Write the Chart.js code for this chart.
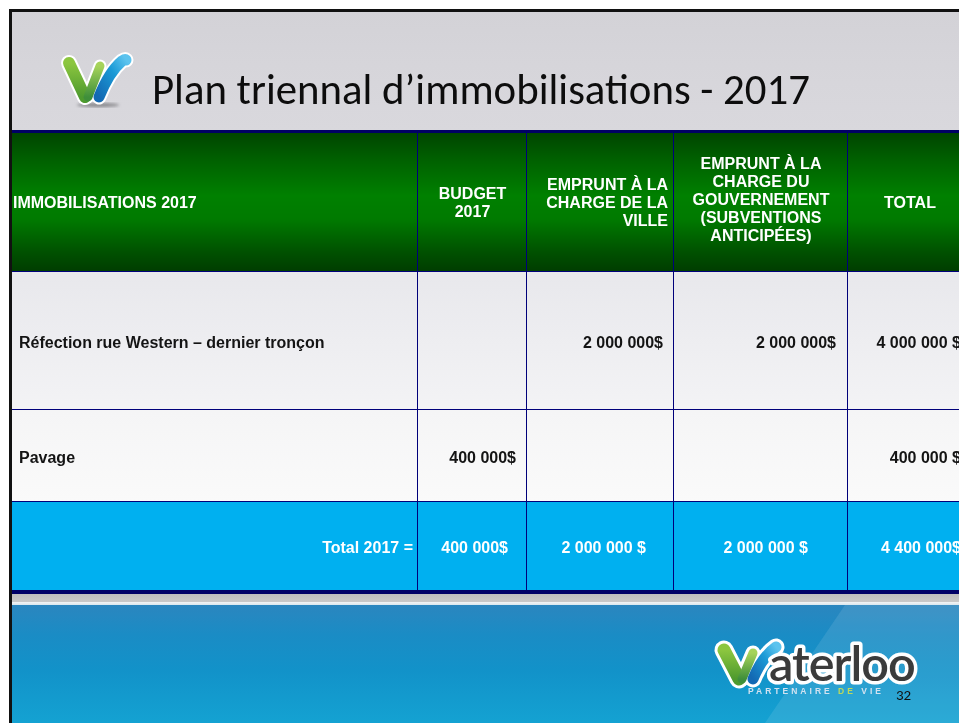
<!DOCTYPE html>
<html lang="fr"><head><meta charset="utf-8">
<title>Plan triennal d’immobilisations - 2017</title>
<script src="https://cdn.jsdelivr.net/npm/chart.js@4.4.0/dist/chart.umd.min.js"></script>
<style>
html,body{margin:0;padding:0;width:959px;height:723px;overflow:hidden;background:#fff;}
#slide{position:absolute;left:0;top:0;width:959px;height:723px;overflow:hidden;}
.abs{position:absolute;}
#borderTop{left:9px;top:9px;width:960px;height:3px;background:#111;}
#borderLeft{left:9px;top:9px;width:3px;height:720px;background:#111;z-index:5;}
#head{left:12px;top:12px;width:950px;height:118px;background:linear-gradient(180deg,#d3d2d7 0%,#d7d6db 60%,#d9d8dd 100%);}
#navyTop{left:12px;top:130px;width:960px;height:3px;background:#000066;}
#chartWrap{left:12px;top:133px;width:960px;height:457px;}
#navyBottom{left:12px;top:590px;width:960px;height:4px;background:#000066;}
#grayBand{left:12px;top:594px;width:960px;height:8px;background:linear-gradient(180deg,#bdbdbd,#c9c9c9);}
#whiteLine{left:12px;top:602px;width:960px;height:3px;background:linear-gradient(180deg,#f4f4f4,#d8e6ee);}
#footer{left:12px;top:605px;width:960px;height:118px;background:linear-gradient(180deg,#2b86bf 0%,#1a8cc5 25%,#1292c9 55%,#14a2d2 100%);}
#footerLight{left:0;top:605px;width:959px;height:118px;background:rgba(255,255,255,0.10);clip-path:polygon(845px 0,959px 0,959px 118px,765px 118px);}
#deco{left:0;top:0;width:959px;height:723px;z-index:4;}
</style>
</head>
<body>
<div id="slide">
  <div id="head" class="abs"></div>
  <div id="borderTop" class="abs"></div>
  <div id="navyTop" class="abs"></div>
  <div id="chartWrap" class="abs"><canvas id="chart"></canvas></div>
  <div id="navyBottom" class="abs"></div>
  <div id="grayBand" class="abs"></div>
  <div id="whiteLine" class="abs"></div>
  <div id="footer" class="abs"></div>
  <div id="footerLight" class="abs"></div>
  <div id="borderLeft" class="abs"></div>
  <svg id="deco" class="abs" width="959" height="723" xmlns="http://www.w3.org/2000/svg">
    <defs>
      <linearGradient id="gGreen" x1="0" y1="0" x2="0" y2="1">
        <stop offset="0" stop-color="#8cc63f"/><stop offset="1" stop-color="#4e9a2e"/>
      </linearGradient>
      <linearGradient id="gGreen2" x1="0" y1="0" x2="0" y2="1">
        <stop offset="0" stop-color="#a6d35a"/><stop offset="1" stop-color="#3f8f3a"/>
      </linearGradient>
      <linearGradient id="gBlue" x1="0" y1="1" x2="1" y2="0">
        <stop offset="0" stop-color="#1369b3"/><stop offset="0.6" stop-color="#1b9ad6"/><stop offset="1" stop-color="#5cc3ee"/>
      </linearGradient>
      <filter id="blur"><feGaussianBlur stdDeviation="1.6"/></filter>
    </defs>
    <!-- top-left logo -->
    <ellipse cx="98" cy="105" rx="21" ry="2.2" fill="#8c8c90" filter="url(#blur)"/>
    <g stroke-linecap="round" fill="none">
      <path d="M69 63 L85 97" stroke="#fff" stroke-width="16"/>
      <path d="M88 97 L100 66" stroke="#fff" stroke-width="13"/>
      <path d="M99 97 Q109 72 122 61 Q125 59 126 60" stroke="#fff" stroke-width="15"/>
      <path d="M69 63 L85 97" stroke="url(#gGreen)" stroke-width="12"/>
      <path d="M88 97 L100 66" stroke="url(#gGreen2)" stroke-width="9"/>
      <path d="M99 97 Q109 72 122 61 Q125 59 126 60" stroke="url(#gBlue)" stroke-width="11"/>
    </g>
    <text id="title" x="152" y="104" font-family="Carlito, Lato, 'Open Sans', sans-serif" font-size="40" fill="#0d0d0d">Plan triennal d’immobilisations - 2017</text>
    <!-- footer logo -->
    <g stroke-linecap="round" fill="none">
      <path d="M724 650 L739 679" stroke="#fff" stroke-width="19"/>
      <path d="M742 679 L753 653" stroke="#fff" stroke-width="15"/>
      <path d="M753 679 Q762 657 776 647" stroke="#fff" stroke-width="17"/>
      <path d="M724 650 L739 679" stroke="url(#gGreen)" stroke-width="13"/>
      <path d="M742 679 L753 653" stroke="url(#gGreen2)" stroke-width="9"/>
      <path d="M753 679 Q762 657 776 647" stroke="url(#gBlue)" stroke-width="11"/>
    </g>
    <text id="brand" x="769" y="681" font-family="Lato, 'Open Sans', sans-serif" font-weight="600" font-size="50" fill="#3b3b3b" stroke="#ffffff" stroke-width="7" paint-order="stroke" stroke-linejoin="round" letter-spacing="-1">aterloo</text>
    <text x="748" y="694" font-family="'Liberation Sans', Arial, sans-serif" font-weight="700" font-size="8.5" fill="#d2e2f0" textLength="133" lengthAdjust="spacing">PARTENAIRE <tspan fill="#bcd85c">DE</tspan> VIE</text>
    <text x="896" y="700" font-family="Carlito, Lato, sans-serif" font-size="15" fill="#111">32</text>
  </svg>
</div>
<script>
// ---------- data ----------
const firstColumnHeader = 'IMMOBILISATIONS 2017';
const columnHeaders = [
  ['BUDGET', '2017'],
  ['EMPRUNT À LA', 'CHARGE DE LA', 'VILLE'],
  ['EMPRUNT À LA', 'CHARGE DU', 'GOUVERNEMENT', '(SUBVENTIONS', 'ANTICIPÉES)'],
  ['TOTAL']
];
const projects = ['Réfection rue Western – dernier tronçon', 'Pavage'];
const totalLabel = 'Total 2017 =';
// values per column, rows: Réfection, Pavage, Total 2017
const budget2017 = [null, 400000, 400000];
const empruntVille = [2000000, null, 2000000];
const empruntGouvernement = [2000000, null, 2000000];
const totalValues = [4000000, 400000, 4400000];
// "$" written with a space before it, as in the source
const dollarSpaced = [
  [false, false, false],
  [false, false, true],
  [false, false, true],
  [true, true, false]
];

// ---------- layout (positions / styles) ----------
const COL_EDGES = [0, 406, 515, 662, 836, 960];
const ROW_EDGES = [0, 139, 277, 369, 457];
const NAVY = '#00007a';
const FONT = 'bold 16px "Liberation Sans", Arial, Helvetica, sans-serif';
const ROW_STOPS = [
  [[0, '#004500'], [0.18, '#005f00'], [0.45, '#008000'], [0.62, '#007a00'], [0.85, '#005200'], [1, '#003c00']],
  [[0, '#e8e8ec'], [1, '#f3f3f5']],
  [[0, '#f5f5f6'], [1, '#fafafa']],
  [[0, '#00b0f0'], [1, '#00b0f0']]
];
const FLAT = ['#007000', '#eeeef1', '#f8f8f8', '#00b0f0'];
const PAD_DATA = [7, 11, 11, 12, 11];
const PAD_TOTAL = [5, 19, 28, 40, 11];

const valueColumns = [budget2017, empruntVille, empruntGouvernement, totalValues];

function fmt(v, spaced) {
  return String(v).replace(/\B(?=(\d{3})+(?!\d))/g, ' ') + (spaced ? ' $' : '$');
}

function rowFill(r) {
  return (ctx) => {
    const chart = ctx.chart;
    if (!chart.chartArea || !chart.scales.y) return FLAT[r];
    const y = chart.scales.y;
    const top = y.getPixelForValue(ROW_EDGES[r]);
    const bot = y.getPixelForValue(ROW_EDGES[r + 1]);
    const g = chart.ctx.createLinearGradient(0, top, 0, bot);
    ROW_STOPS[r].forEach(([o, c]) => g.addColorStop(o, c));
    return g;
  };
}

const nRows = ROW_EDGES.length - 1;
const nCols = COL_EDGES.length - 1;
const datasets = [];
for (let r = 0; r < nRows; r++) {
  const data = [];
  for (let c = 0; c < nCols; c++) {
    data.push({ x: [COL_EDGES[c], COL_EDGES[c + 1]], y: (ROW_EDGES[r] + ROW_EDGES[r + 1]) / 2 });
  }
  datasets.push({
    label: r === 0 ? 'header' : (r === nRows - 1 ? totalLabel : projects[r - 1]),
    data,
    barThickness: ROW_EDGES[r + 1] - ROW_EDGES[r],
    backgroundColor: rowFill(r),
    borderColor: NAVY,
    borderWidth: { top: 0, left: 0, right: 1, bottom: r === nRows - 1 ? 0 : 1 },
    borderSkipped: false,
    inflateAmount: 0,
    grouped: false
  });
}

const cellText = {
  id: 'cellText',
  afterDatasetsDraw(chart) {
    const ctx = chart.ctx;
    const xs = chart.scales.x, ys = chart.scales.y;
    const X = (v) => xs.getPixelForValue(v);
    const Y = (v) => ys.getPixelForValue(v);
    ctx.save();
    ctx.font = FONT;
    ctx.textBaseline = 'middle';
    const lh = 18;
    // header row
    ctx.fillStyle = '#ffffff';
    const hc = (Y(ROW_EDGES[0]) + Y(ROW_EDGES[1])) / 2;
    ctx.textAlign = 'left';
    ctx.fillText(firstColumnHeader, X(COL_EDGES[0]) + 1, hc + 1);
    const hAlign = ['center', 'right', 'center', 'center'];
    columnHeaders.forEach((lines, i) => {
      const c = i + 1;
      const l = X(COL_EDGES[c]), rr = X(COL_EDGES[c + 1]);
      ctx.textAlign = hAlign[i];
      const x = hAlign[i] === 'right' ? rr - 6 : (l + rr) / 2;
      const y0 = hc + 1 - (lines.length - 1) * lh / 2 - (lines.length > 3 ? 3 : 0);
      lines.forEach((t, k) => ctx.fillText(t, x, y0 + k * lh));
    });
    // body rows
    for (let r = 1; r < nRows; r++) {
      const isTotal = r === nRows - 1;
      const pads = isTotal ? PAD_TOTAL : PAD_DATA;
      const yc = (Y(ROW_EDGES[r]) + Y(ROW_EDGES[r + 1])) / 2 + 2.5;
      ctx.fillStyle = isTotal ? '#ffffff' : '#141414';
      if (isTotal) {
        ctx.textAlign = 'right';
        ctx.fillText(totalLabel, X(COL_EDGES[1]) - pads[0], yc);
      } else {
        ctx.textAlign = 'left';
        ctx.fillText(projects[r - 1], X(COL_EDGES[0]) + pads[0], yc);
      }
      ctx.textAlign = 'right';
      valueColumns.forEach((col, i) => {
        const v = col[r - 1];
        if (v === null || v === undefined) return;
        ctx.fillText(fmt(v, dollarSpaced[i][r - 1]), X(COL_EDGES[i + 2]) - pads[i + 1], yc);
      });
    }
    ctx.restore();
  }
};

new Chart(document.getElementById('chart'), {
  type: 'bar',
  data: { datasets },
  options: {
    indexAxis: 'y',
    responsive: true,
    maintainAspectRatio: false,
    animation: false,
    events: [],
    layout: { padding: 0 },
    scales: {
      x: { type: 'linear', min: COL_EDGES[0], max: COL_EDGES[COL_EDGES.length - 1], offset: false, grace: 0, display: false },
      y: { type: 'linear', min: ROW_EDGES[0], max: ROW_EDGES[ROW_EDGES.length - 1], reverse: true, offset: false, grace: 0, display: false }
    },
    plugins: { legend: { display: false }, tooltip: { enabled: false }, title: { display: false } }
  },
  plugins: [cellText]
});

// fit title and brand widths to the source
function fitWidth(id, target) {
  const el = document.getElementById(id);
  const fs = parseFloat(el.getAttribute('font-size'));
  const w = el.getComputedTextLength();
  if (w > 0) el.setAttribute('font-size', (fs * target / w).toFixed(2));
}
fitWidth('title', 658);
fitWidth('brand', 146);
</script>
</body></html>
